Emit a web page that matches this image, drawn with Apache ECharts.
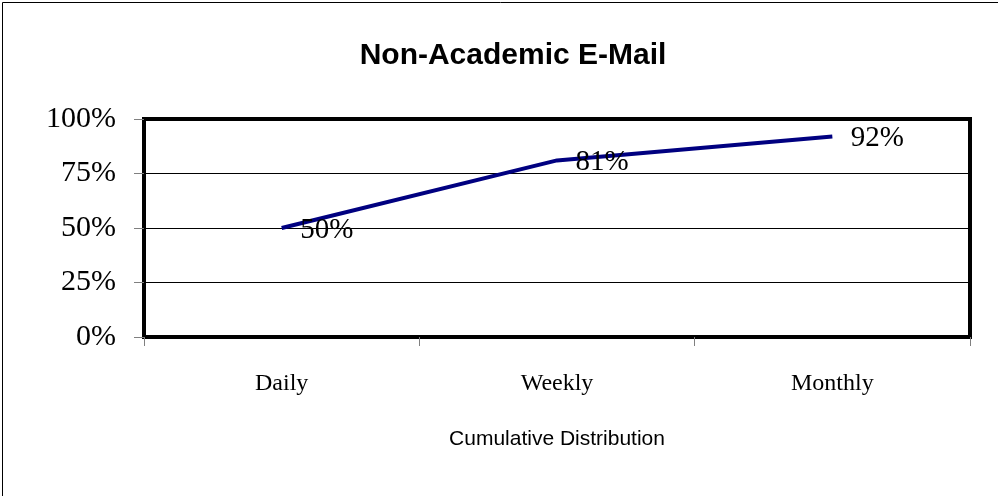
<!DOCTYPE html>
<html><head><meta charset="utf-8">
<script src="https://cdn.jsdelivr.net/npm/echarts@6/dist/echarts.min.js"></script>
<style>html,body{margin:0;padding:0;background:#fff}#c{width:998px;height:496px}</style>
</head><body><div id="c"></div>
<script>
const categories = ['Daily', 'Weekly', 'Monthly'];
const values = [50, 81, 92];
const yTicks = [0, 25, 50, 75, 100];
const titleText = 'Non-Academic E-Mail';
const xAxisName = 'Cumulative Distribution';

const chart = echarts.init(document.getElementById('c'));
chart.setOption({
  animation: false,
  backgroundColor: '#fff',
  title: {
    text: titleText, left: 508, top: 36, textAlign: 'center',
    textStyle: { fontFamily: 'Arial, Liberation Sans', fontWeight: 'bold', fontSize: 30, color: '#000' }
  },
  graphic: [{
    type: 'rect', left: 0, top: 0, silent: true,
    shape: { x: 0.5, y: 0.5, width: 996, height: 494 },
    style: { fill: 'none', stroke: '#000', lineWidth: 1 }
  }],
  grid: { left: 144, right: 28, top: 119, bottom: 159, show: true, borderColor: '#000', borderWidth: 4, backgroundColor: 'transparent' },
  xAxis: {
    type: 'category', data: categories, boundaryGap: true,
    name: xAxisName, nameLocation: 'middle', nameGap: 92,
    nameTextStyle: { fontFamily: 'Arial, Liberation Sans', fontSize: 21, color: '#000' },
    axisLine: { show: false },
    axisTick: { show: true, length: 9, lineStyle: { color: '#808080' } },
    axisLabel: { margin: 35, fontFamily: 'Times New Roman, Liberation Serif', fontSize: 24, color: '#000' },
    splitLine: { show: false }
  },
  yAxis: {
    type: 'value', min: 0, max: 100, interval: 25,
    axisLine: { show: false },
    axisTick: { show: true, length: 10, lineStyle: { color: '#808080' } },
    axisLabel: { margin: 28, fontFamily: 'Times New Roman, Liberation Serif', fontSize: 30, color: '#000',
      formatter: v => yTicks.includes(v) ? v + '%' : '' },
    splitLine: { show: true, lineStyle: { color: '#000', width: 1 } }
  },
  series: [{
    type: 'line', data: values, symbol: 'circle', symbolSize: 1, showSymbol: true,
    itemStyle: { color: 'rgba(0,0,0,0)', borderWidth: 0 },
    lineStyle: { color: '#000080', width: 4 },
    label: { show: true, position: 'right', distance: 18, offset: [0, 2], formatter: p => p.value + '%',
      fontFamily: 'Times New Roman, Liberation Serif', fontSize: 29, color: '#000' }
  }]
});
</script></body></html>
